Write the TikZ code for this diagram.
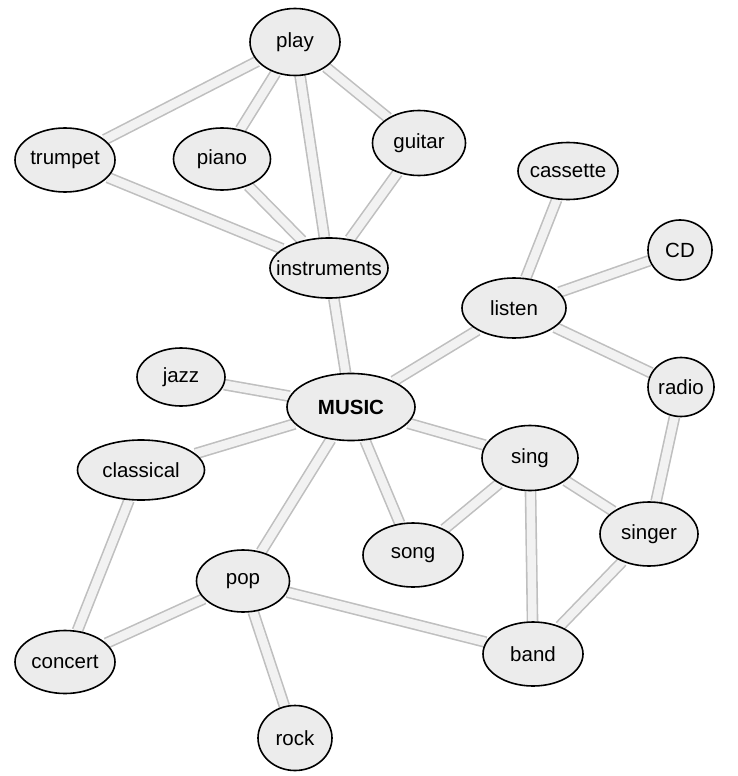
\documentclass[tikz,border=0pt]{standalone}
\usepackage{fontspec}
\setmainfont{Liberation Sans}
\usetikzlibrary{shapes.geometric,backgrounds}
\tikzset{
  bubble/.style={ellipse,draw=black,line width=1.6pt,fill=gray!15,inner sep=0pt,
    font=\fontsize{20.5}{24}\selectfont,
    execute at begin node={\hbox to 0pt\bgroup\hss},
    execute at end node={\hss\egroup}},
  tube/.style={draw=gray!50,line width=1.6pt,double=gray!10,double distance=8.5pt}
}
\begin{document}
\begin{tikzpicture}[x=1pt,y=-1pt]
\useasboundingbox (0,0) rectangle (738,776);
\node[bubble,minimum width=90,minimum height=67] (play) at (295,42) {play};
\node[bubble,minimum width=100,minimum height=64] (trumpet) at (65,160) {trumpet};
\node[bubble,minimum width=97,minimum height=62] (piano) at (222,159) {piano};
\node[bubble,minimum width=93,minimum height=65] (guitar) at (419,143) {guitar};
\node[bubble,minimum width=118,minimum height=60] (instruments) at (329,268) {instruments};
\node[bubble,minimum width=100,minimum height=57] (cassette) at (568,171) {cassette};
\node[bubble,minimum width=64,minimum height=60] (cd) at (680,250) {CD};
\node[bubble,minimum width=104,minimum height=60] (listen) at (514,308) {listen};
\node[bubble,minimum width=88,minimum height=58] (jazz) at (181,377) {jazz};
\node[bubble,minimum width=128,minimum height=67,font=\fontsize{20.5}{24}\selectfont\bfseries] (music) at (351,407) {MUSIC};
\node[bubble,minimum width=66,minimum height=59] (radio) at (681,387) {radio};
\node[bubble,minimum width=127,minimum height=60] (classical) at (141,470) {classical};
\node[bubble,minimum width=96,minimum height=65] (sing) at (530,458) {sing};
\node[bubble,minimum width=98,minimum height=64] (singer) at (649,534) {singer};
\node[bubble,minimum width=100,minimum height=64] (song) at (413,555) {song};
\node[bubble,minimum width=93,minimum height=62] (pop) at (243,581) {pop};
\node[bubble,minimum width=100,minimum height=63] (concert) at (65,662) {concert};
\node[bubble,minimum width=100,minimum height=64] (band) at (533,654) {band};
\node[bubble,minimum width=74,minimum height=65] (rock) at (295,738) {rock};
% links between the bubbles
\begin{scope}[on background layer]
\foreach \a/\b in {play/trumpet,play/piano,play/instruments,play/guitar,
  trumpet/instruments,piano/instruments,guitar/instruments,instruments/music,
  cassette/listen,cd/listen,listen/music,listen/radio,jazz/music,
  music/classical,music/sing,music/song,music/pop,sing/song,sing/band,
  sing/singer,radio/singer,singer/band,classical/concert,pop/concert,
  pop/band,pop/rock} {
  \draw[tube] (\a) -- (\b);
}
\end{scope}
\end{tikzpicture}
\end{document}
